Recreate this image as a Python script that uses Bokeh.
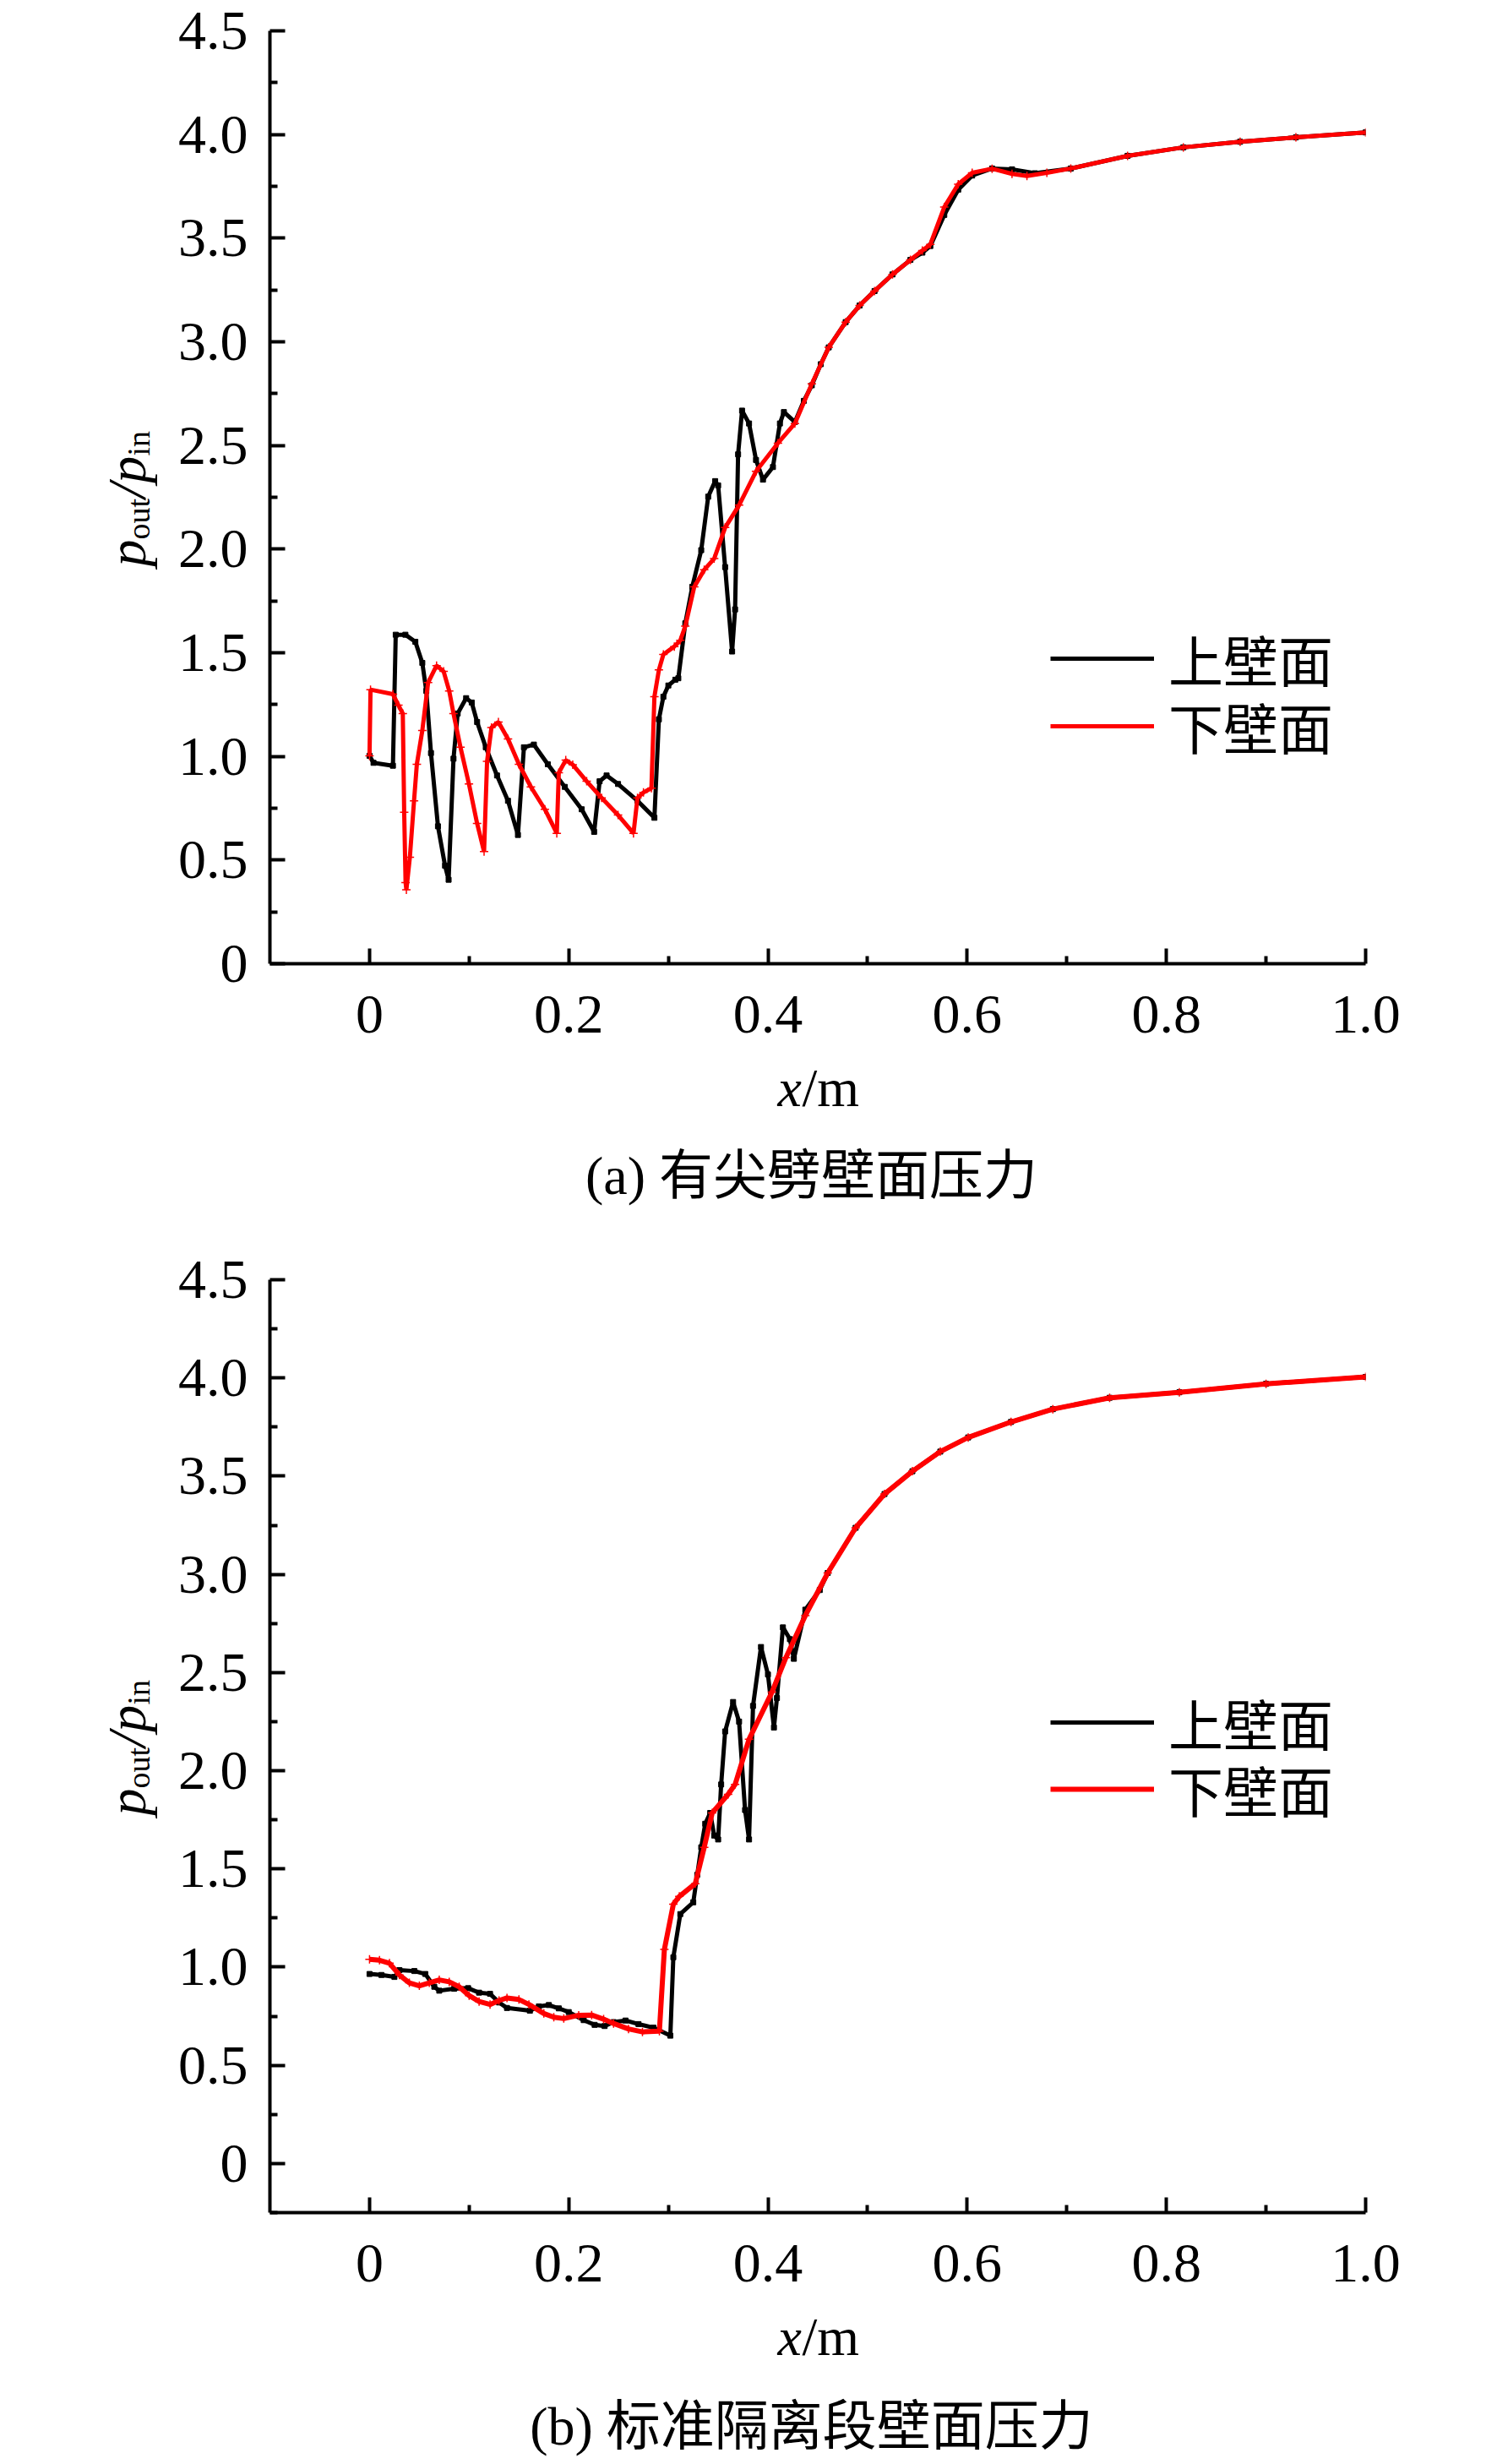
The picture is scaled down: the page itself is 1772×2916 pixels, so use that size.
import math
from bokeh.plotting import figure
from bokeh.models import (Range1d, FixedTicker, Label, Legend, LegendItem)
from bokeh.layouts import column
from bokeh.embed import file_html
from bokeh.resources import INLINE

# ---------------- data ----------------
# (a) with wedge
a_upper_x = [0.0, 0.004, 0.0235, 0.0263, 0.036, 0.046, 0.053, 0.057, 0.0617, 0.0687, 0.0758, 0.0794,
             0.0843, 0.0885, 0.097, 0.1026, 0.108, 0.1167, 0.128, 0.139, 0.149, 0.155, 0.165, 0.179,
             0.196, 0.213, 0.2255, 0.231, 0.238, 0.2495, 0.269, 0.286, 0.2905, 0.295, 0.300, 0.307,
             0.310, 0.317, 0.324, 0.333, 0.340, 0.347, 0.350, 0.357, 0.364, 0.367, 0.370, 0.374,
             0.381, 0.388, 0.395, 0.405, 0.412, 0.416, 0.427, 0.436, 0.444, 0.453, 0.461, 0.478,
             0.492, 0.507, 0.525, 0.543, 0.555, 0.563, 0.577, 0.591, 0.605, 0.625, 0.645, 0.668,
             0.704, 0.761, 0.817, 0.874, 0.930, 1.0]
a_upper_y = [1.003, 0.969, 0.955, 1.587, 1.587, 1.553, 1.451, 1.316, 1.016, 0.663, 0.473, 0.405,
             0.989, 1.207, 1.281, 1.26, 1.166, 1.044, 0.908, 0.786, 0.621, 1.044, 1.057, 0.962,
             0.853, 0.745, 0.636, 0.88, 0.908, 0.867, 0.786, 0.704, 1.179, 1.288, 1.342, 1.37,
             1.377, 1.642, 1.818, 1.995, 2.253, 2.328, 2.307, 1.913, 1.506, 1.709, 2.457, 2.668,
             2.606, 2.430, 2.335, 2.396, 2.606, 2.661, 2.613, 2.715, 2.790, 2.892, 2.973, 3.095,
             3.175, 3.245, 3.325, 3.395, 3.43, 3.462, 3.612, 3.734, 3.802, 3.836, 3.832, 3.813,
             3.836, 3.897, 3.938, 3.965, 3.986, 4.010]

a_lower_x = [0.0, 0.001, 0.0235, 0.029, 0.0334, 0.0348, 0.0362, 0.037, 0.0405, 0.0447, 0.0475, 0.053,
             0.0588, 0.0673, 0.0744, 0.080, 0.0843, 0.0913, 0.0998, 0.108, 0.115, 0.118, 0.1224,
             0.1294, 0.139, 0.150, 0.162, 0.176, 0.188, 0.190, 0.197, 0.204, 0.218, 0.233, 0.2495,
             0.265, 0.269, 0.275, 0.283, 0.286, 0.2905, 0.295, 0.306, 0.312, 0.317, 0.326, 0.336,
             0.346, 0.357, 0.371, 0.388, 0.410, 0.427, 0.444, 0.461, 0.478, 0.492, 0.507, 0.525,
             0.543, 0.555, 0.563, 0.577, 0.591, 0.605, 0.625, 0.645, 0.660, 0.680, 0.704, 0.761,
             0.817, 0.874, 0.930, 1.0]
a_lower_y = [1.003, 1.322, 1.30, 1.247, 1.207, 0.731, 0.391, 0.357, 0.514, 0.786, 0.962, 1.125,
             1.356, 1.438, 1.41, 1.316, 1.207, 1.044, 0.867, 0.677, 0.541, 0.976, 1.139,
             1.166, 1.084, 0.962, 0.853, 0.745, 0.629, 0.921, 0.982, 0.96, 0.88, 0.80, 0.717,
             0.629, 0.80, 0.826, 0.847, 1.288, 1.417, 1.492, 1.53, 1.560, 1.628, 1.818, 1.90,
             1.954, 2.104, 2.212, 2.375, 2.511, 2.606, 2.797, 2.973, 3.095, 3.175, 3.245, 3.325,
             3.395, 3.44, 3.47, 3.65, 3.76, 3.815, 3.835, 3.81, 3.80, 3.815, 3.836, 3.897,
             3.938, 3.965, 3.986, 4.010]

# (b) standard isolator
b_upper_x = [0.0, 0.012, 0.025, 0.030, 0.045, 0.056, 0.065, 0.070, 0.085, 0.099, 0.110, 0.121,
             0.130, 0.138, 0.161, 0.170, 0.180, 0.190, 0.200, 0.215, 0.226, 0.236, 0.245, 0.257,
             0.270, 0.285, 0.302, 0.305, 0.312, 0.325, 0.329, 0.333, 0.337, 0.342, 0.346, 0.350,
             0.353, 0.357, 0.365, 0.371, 0.377, 0.381, 0.385, 0.393, 0.400, 0.406, 0.409, 0.415,
             0.422, 0.426, 0.4375, 0.452, 0.460, 0.488, 0.517, 0.545, 0.573, 0.601, 0.644, 0.686,
             0.743, 0.813, 0.900, 1.0]
b_upper_y = [0.965, 0.96, 0.95, 0.985, 0.98, 0.965, 0.90, 0.88, 0.89, 0.893, 0.87, 0.864,
             0.82, 0.792, 0.778, 0.80, 0.807, 0.79, 0.771, 0.73, 0.706, 0.70, 0.72, 0.728,
             0.71, 0.692, 0.651, 1.05, 1.27, 1.33, 1.47, 1.61, 1.73, 1.785, 1.67, 1.65,
             1.93, 2.20, 2.35, 2.25, 1.80, 1.65, 2.33, 2.63, 2.49, 2.22, 2.37, 2.73,
             2.67, 2.57, 2.82, 2.92, 3.007, 3.237, 3.409, 3.525, 3.625, 3.697, 3.776, 3.841,
             3.899, 3.927, 3.97, 4.005]

b_lower_x = [0.0, 0.010, 0.020, 0.030, 0.040, 0.050, 0.060, 0.070, 0.080, 0.090, 0.100, 0.110,
             0.121, 0.130, 0.138, 0.150, 0.160, 0.175, 0.185, 0.195, 0.210, 0.223, 0.235, 0.245,
             0.260, 0.274, 0.291, 0.296, 0.305, 0.311, 0.327, 0.336, 0.344, 0.360, 0.367, 0.381,
             0.404, 0.418, 0.4375, 0.460, 0.488, 0.517, 0.545, 0.573, 0.601, 0.644, 0.686, 0.743,
             0.813, 0.900, 1.0]
b_lower_y = [1.04, 1.035, 1.02, 0.96, 0.92, 0.905, 0.92, 0.935, 0.925, 0.90, 0.855, 0.825,
             0.81, 0.83, 0.843, 0.835, 0.81, 0.764, 0.745, 0.738, 0.755, 0.756, 0.735, 0.713,
             0.685, 0.670, 0.674, 1.09, 1.32, 1.36, 1.425, 1.61, 1.785, 1.88, 1.93, 2.16,
             2.40, 2.576, 2.79, 3.007, 3.237, 3.409, 3.525, 3.625, 3.697, 3.776, 3.841, 3.899,
             3.927, 3.97, 4.005]

x_ticks = [0.0, 0.2, 0.4, 0.6, 0.8, 1.0]
x_tick_labels = ["0", "0.2", "0.4", "0.6", "0.8", "1.0"]
x_minor = [0.1, 0.3, 0.5, 0.7, 0.9]
y_ticks = [0.0, 0.5, 1.0, 1.5, 2.0, 2.5, 3.0, 3.5, 4.0, 4.5]
y_tick_labels = ["0", "0.5", "1.0", "1.5", "2.0", "2.5", "3.0", "3.5", "4.0", "4.5"]
y_minor = [-0.25, 0.25, 0.75, 1.25, 1.75, 2.25, 2.75, 3.25, 3.75, 4.25]
series_names = ["上壁面", "下壁面"]
captions = ["(a) 有尖劈壁面压力", "(b) 标准隔离段壁面压力"]

SERIF = "Liberation Serif"
MIXED = "'Liberation Serif', 'Noto Sans CJK SC'"

XMIN, XMAX, YMAX = -0.1, 1.0, 4.5
FRAME_W, FRAME_H = 1297, 1104


def make_panel(ux, uy, lx, ly, ymin, caption, height, top, legend_ys, red_w, cap_y):
    p = figure(width=1772, height=height, x_range=Range1d(XMIN, XMAX),
               y_range=Range1d(ymin, YMAX), output_backend="svg",
               toolbar_location=None, min_border_left=319,
               min_border_right=1772 - 319 - FRAME_W,
               min_border_top=top, min_border_bottom=height - top - FRAME_H)
    p.outline_line_color = None
    p.grid.visible = False
    p.background_fill_color = "white"
    p.border_fill_color = "white"

    for ax, tk, lb, mn in ((p.xaxis[0], x_ticks, x_tick_labels, x_minor),
                           (p.yaxis[0], y_ticks, y_tick_labels, y_minor)):
        ax.ticker = FixedTicker(ticks=tk, minor_ticks=mn)
        ax.major_label_overrides = {t: s for t, s in zip(tk, lb)}
        ax.axis_line_width = 4
        ax.axis_line_color = "black"
        ax.major_tick_in = 18
        ax.major_tick_out = 0
        ax.minor_tick_in = 9
        ax.minor_tick_out = 0
        ax.major_tick_line_width = 4
        ax.minor_tick_line_width = 4
        ax.major_label_text_font = SERIF
        ax.major_label_text_font_size = "66px"
        ax.major_label_text_color = "black"
    p.xaxis[0].major_label_standoff = 38
    p.yaxis[0].major_label_standoff = 26

    lu = p.line(ux, uy, line_color="black", line_width=5)
    p.scatter(ux, uy, marker="square", size=6, fill_color="black", line_color="black")
    ll = p.line(lx, ly, line_color="red", line_width=red_w)
    p.scatter(lx, ly, marker="cross", size=10, line_color="red", line_width=1.5)

    # one legend per entry so that the row pitch can follow the reference
    for name, rend, ly_ in zip(series_names, (lu, ll), legend_ys):
        leg = Legend(items=[LegendItem(label=name, renderers=[rend])],
                     location=(924, ly_), padding=0, margin=0,
                     border_line_color=None, background_fill_alpha=0,
                     glyph_width=123, glyph_height=40, label_height=40,
                     label_standoff=17, spacing=0,
                     label_text_font=MIXED, label_text_font_size="65px",
                     label_text_color="black")
        p.add_layout(leg)

    sx = (XMAX - XMIN) / FRAME_W
    sy = (YMAX - ymin) / FRAME_H

    def lab(side, text, px, py, size, style="normal", angle=0.0, font=SERIF, align="left"):
        # px, py: pixel offsets from the frame's lower-left corner (converted to data units);
        # the label lives in a side panel so it is not clipped to the frame
        p.add_layout(Label(x=XMIN + px * sx, y=ymin + py * sy, x_units="data", y_units="data",
                           text=text, angle=angle, text_font=font, text_font_size=size,
                           text_font_style=style, text_align=align,
                           text_baseline="alphabetic", text_color="black"), side)

    r = math.pi / 2
    lab("left", "p", -169, 470, "64px", "italic", r)
    lab("left", "out", -156, 502, "38px", "normal", r)
    lab("right", "/p", -169, 551, "64px", "italic", r)
    lab("left", "in", -156, 601, "38px", "normal", r)

    lab("right", "x", 601, -147, "64px", "italic")
    lab("below", "/m", 630, -147, "64px", "normal")
    lab("below", caption, 641, cap_y, "64px", "normal", 0.0, MIXED, "center")
    return p


pa = make_panel(a_upper_x, a_upper_y, a_lower_x, a_lower_y, 0.0, captions[0],
                1442, 36, (314, 234), 5, -251)
pb = make_panel(b_upper_x, b_upper_y, b_lower_x, b_lower_y, -0.25, captions[1],
                1472, 72, (533, 454), 6, -253)

layout = column(pa, pb)
open("out.html", "w").write(file_html(layout, INLINE))
